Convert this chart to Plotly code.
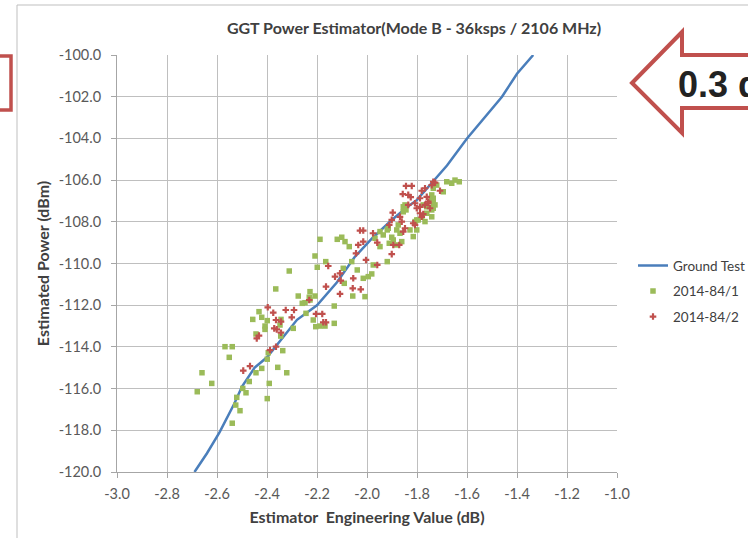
import plotly.graph_objects as go

# ---------------- data ----------------
GT_X = [-2.69, -2.64, -2.59, -2.55, -2.53, -2.50, -2.45, -2.40, -2.36, -2.28, -2.20, -2.12,
        -2.05, -1.98, -1.90, -1.84, -1.80, -1.74, -1.68, -1.60, -1.53, -1.46, -1.40, -1.335]
GT_Y = [-120.0, -119.1, -118.1, -117.2, -116.7, -115.9, -115.0, -114.5, -113.9, -112.7, -112.0, -110.9,
        -109.7, -108.8, -107.9, -107.3, -106.95, -106.1, -105.3, -104.0, -103.0, -102.0, -100.9, -100.0]

S1_X = [-2.311, -2.199, -2.165, -2.365, -2.275, -2.228, -2.208, -2.231, -2.228, -2.248,
        -2.259, -2.432, -2.421, -2.457, -2.399, -2.408, -2.408, -2.348, -2.344, -2.295,
        -2.244, -2.215, -2.205, -2.188, -2.168, -2.444, -2.345, -2.568, -2.539, -2.551,
        -2.395, -2.399, -2.337, -2.421, -2.357, -2.321, -2.444, -2.660, -2.621, -2.679,
        -2.471, -2.497, -2.484, -2.391, -2.521, -2.399, -2.525, -2.508, -2.539,
        -2.188, -2.119, -2.101, -2.088, -2.071, -2.208, -2.095, -2.039, -2.061, -1.975,
        -2.015, -1.995, -1.981, -1.919, -2.091, -2.057, -2.008, -2.131, -1.968, -1.948,
        -1.935, -1.919, -1.948, -1.911, -1.868, -1.881, -1.875, -1.901, -1.895, -1.828,
        -1.815, -1.801, -1.781, -1.761, -1.741, -1.855, -1.844, -1.735, -1.741,
        -1.681, -1.661, -1.648, -1.631, -1.721, -1.735, -1.741, -1.735, -1.728, -1.735,
        -1.741, -1.775, -1.761, -1.848, -1.855, -1.808, -1.795, -1.768, -1.801, -1.915,
        -1.861, -1.881, -1.695, -2.131]
S1_Y = [-110.36, -110.18, -109.91, -111.22, -111.56, -111.35, -111.56, -111.62, -111.75, -111.88,
        -111.91, -112.31, -112.58, -112.68, -112.74, -113.00, -113.16, -112.95, -112.68, -113.11,
        -112.39, -112.71, -113.03, -113.00, -113.00, -113.38, -113.48, -113.99, -113.99, -114.50,
        -114.28, -114.59, -114.18, -115.03, -114.98, -115.24, -115.24, -115.24, -115.75, -116.15,
        -115.66, -115.99, -116.20, -115.75, -116.42, -116.48, -116.79, -117.06, -117.66,
        -108.84, -108.84, -108.74, -108.95, -109.19, -109.64, -110.23, -110.31, -109.91, -110.07,
        -110.71, -110.63, -110.50, -109.91, -110.95, -111.56, -111.59, -112.04, -108.79, -108.47,
        -108.63, -108.39, -109.19, -109.03, -108.55, -108.39, -108.15, -108.74, -108.87, -108.39,
        -108.71, -107.91, -107.76, -107.59, -107.43, -107.28, -107.43, -107.11, -106.95,
        -106.08, -106.15, -106.00, -106.08, -106.24, -106.39, -106.71, -106.87, -107.19, -107.35,
        -107.76, -107.19, -107.28, -107.19, -107.52, -107.99, -107.91, -107.99, -108.39, -108.31,
        -108.95, -109.11, -106.56, -112.87]

S2_X = [-2.164, -2.155, -2.397, -2.375, -2.325, -2.292, -2.364, -2.344, -2.301, -2.371,
        -2.361, -2.344, -2.432, -2.441, -2.231, -2.204, -2.179, -2.175, -2.164, -2.388,
        -2.364, -2.495, -2.468,
        -1.897, -1.901, -1.911, -2.028, -2.015, -1.976, -2.015, -2.035, -2.044, -1.959,
        -1.871, -1.895, -1.901, -2.004, -1.959, -2.108, -2.128, -2.105, -2.055, -2.057,
        -2.025, -2.108,
        -1.835, -1.808, -1.788, -1.768, -1.755, -1.801, -1.788, -1.775,
        -1.844, -1.821, -1.857, -1.835, -1.825, -1.781, -1.768, -1.741, -1.728, -1.788,
        -1.761, -1.708, -1.868, -1.861, -1.848, -1.855, -1.781, -1.815, -1.808, -1.755,
        -1.748, -1.735]
S2_Y = [-111.11, -110.12, -112.10, -112.36, -112.23, -112.23, -112.71, -112.79, -112.58, -113.11,
        -113.16, -113.32, -113.46, -113.59, -111.75, -112.42, -112.42, -112.82, -112.82, -114.15,
        -113.99, -115.14, -114.92,
        -107.56, -107.91, -108.15, -108.42, -108.42, -108.55, -108.95, -109.11, -109.51, -109.00,
        -109.11, -109.11, -109.55, -109.83, -110.07, -110.47, -110.63, -110.82, -110.71, -111.19,
        -111.24, -111.46,
        -107.19, -107.11, -107.28, -107.19, -107.11, -107.35, -107.59, -107.63,
        -106.28, -106.28, -106.67, -106.71, -106.82, -106.51, -106.39, -106.24, -106.12, -106.87,
        -106.80, -106.51, -107.76, -107.99, -108.31, -108.47, -107.76, -108.07, -108.15, -107.03,
        -107.35, -106.08]

X_TICKS = [-3.0, -2.8, -2.6, -2.4, -2.2, -2.0, -1.8, -1.6, -1.4, -1.2, -1.0]
X_TICK_TEXT = ["-3.0", "-2.8", "-2.6", "-2.4", "-2.2", "-2.0", "-1.8", "-1.6", "-1.4", "-1.2", "-1.0"]
Y_TICKS = [-120.0, -118.0, -116.0, -114.0, -112.0, -110.0, -108.0, -106.0, -104.0, -102.0, -100.0]
Y_TICK_TEXT = ["-120.0", "-118.0", "-116.0", "-114.0", "-112.0", "-110.0", "-108.0", "-106.0",
               "-104.0", "-102.0", "-100.0"]

TITLE = "GGT Power Estimator(Mode B - 36ksps / 2106 MHz)"
X_TITLE = "Estimator  Engineering Value (dB)"
Y_TITLE = "Estimated Power (dBm)"
CALLOUT = "0.3 dB"

# ---------------- figure ----------------
FONT = "Lato"
RED = "#C0504D"
FIG_W, FIG_H = 748, 538

fig = go.Figure()
fig.add_trace(go.Scatter(x=GT_X, y=GT_Y, mode="lines", name="Ground Test",
                         line=dict(color="#4A7EBB", width=2.5), legendgroup="a"))
fig.add_trace(go.Scatter(x=S1_X, y=S1_Y, mode="markers", name="2014-84/1",
                         marker=dict(symbol="square", size=5.5, color="#9BBB59"), legendgroup="b"))
fig.add_trace(go.Scatter(x=S2_X, y=S2_Y, mode="markers", name="2014-84/2",
                         marker=dict(symbol="cross", size=5.5, color=RED), legendgroup="c"))

axis_common = dict(showgrid=True, gridcolor="#BFBFBF", gridwidth=1, zeroline=False,
                   showline=True, linecolor="#A6A6A6", linewidth=1,
                   ticks="outside", ticklen=5, tickcolor="#A6A6A6",
                   tickfont=dict(family=FONT, size=14.5, color="#595959"))

fig.update_layout(
    width=FIG_W, height=FIG_H,
    margin=dict(l=117, r=131, t=55, b=66, autoexpand=False),
    paper_bgcolor="white", plot_bgcolor="white",
    title=dict(text="<b>" + TITLE + "</b>", x=414 / FIG_W, xanchor="center",
               y=1 - 28 / FIG_H, yanchor="middle",
               font=dict(family=FONT, size=16, color="#404040")),
    xaxis=dict(range=[-3.0, -1.0], tickvals=X_TICKS, ticktext=X_TICK_TEXT,
               ticklabelstandoff=4,
               title=dict(text="<b>" + X_TITLE + "</b>", standoff=10,
                          font=dict(family=FONT, size=16, color="#404040")),
               **axis_common),
    yaxis=dict(range=[-120.0, -100.0], tickvals=Y_TICKS, ticktext=Y_TICK_TEXT,
               ticklabelstandoff=7,
               title=dict(text="<b>" + Y_TITLE + "</b>", standoff=5,
                          font=dict(family=FONT, size=16, color="#404040")),
               **axis_common),
    legend=dict(x=1.032, xanchor="left", y=0.532, yanchor="top",
                tracegroupgap=5, bgcolor="rgba(0,0,0,0)",
                font=dict(family=FONT, size=13.5, color="#404040")),
    showlegend=True,
)

W, H = 500.0, 417.0
def px(xp):
    return (xp - 117) / W
def py(yp):
    return (472 - yp) / H

shapes = [
    # chart area frame
    dict(type="rect", xref="paper", yref="paper", layer="below",
         x0=px(17), x1=px(770), y0=py(560), y1=py(5),
         line=dict(color="#BFBFBF", width=1), fillcolor="rgba(0,0,0,0)"),
    # red box at left edge
    dict(type="rect", xref="paper", yref="paper",
         x0=px(-20), x1=px(11), y0=py(110), y1=py(56),
         line=dict(color=RED, width=3.5), fillcolor="rgba(0,0,0,0)"),
    # red arrow at right edge
    dict(type="path", xref="paper", yref="paper",
         path="M {},{} L {},{} L {},{} L {},{} L {},{} L {},{} L {},{} Z".format(
             px(632), py(83), px(682), py(32), px(682), py(55), px(780), py(55),
             px(780), py(108), px(682), py(108), px(682), py(133)),
         line=dict(color=RED, width=4), fillcolor="white"),
]
fig.update_layout(shapes=shapes)

fig.add_annotation(text="<b>" + CALLOUT + "</b>", xref="paper", yref="paper",
                   x=px(676), y=py(84), xanchor="left", yanchor="middle", showarrow=False,
                   font=dict(family="Liberation Sans", size=36, color="#222222"))

fig.write_html("out.html", config={"displayModeBar": False},
               post_script="document.body.style.margin='0';")
